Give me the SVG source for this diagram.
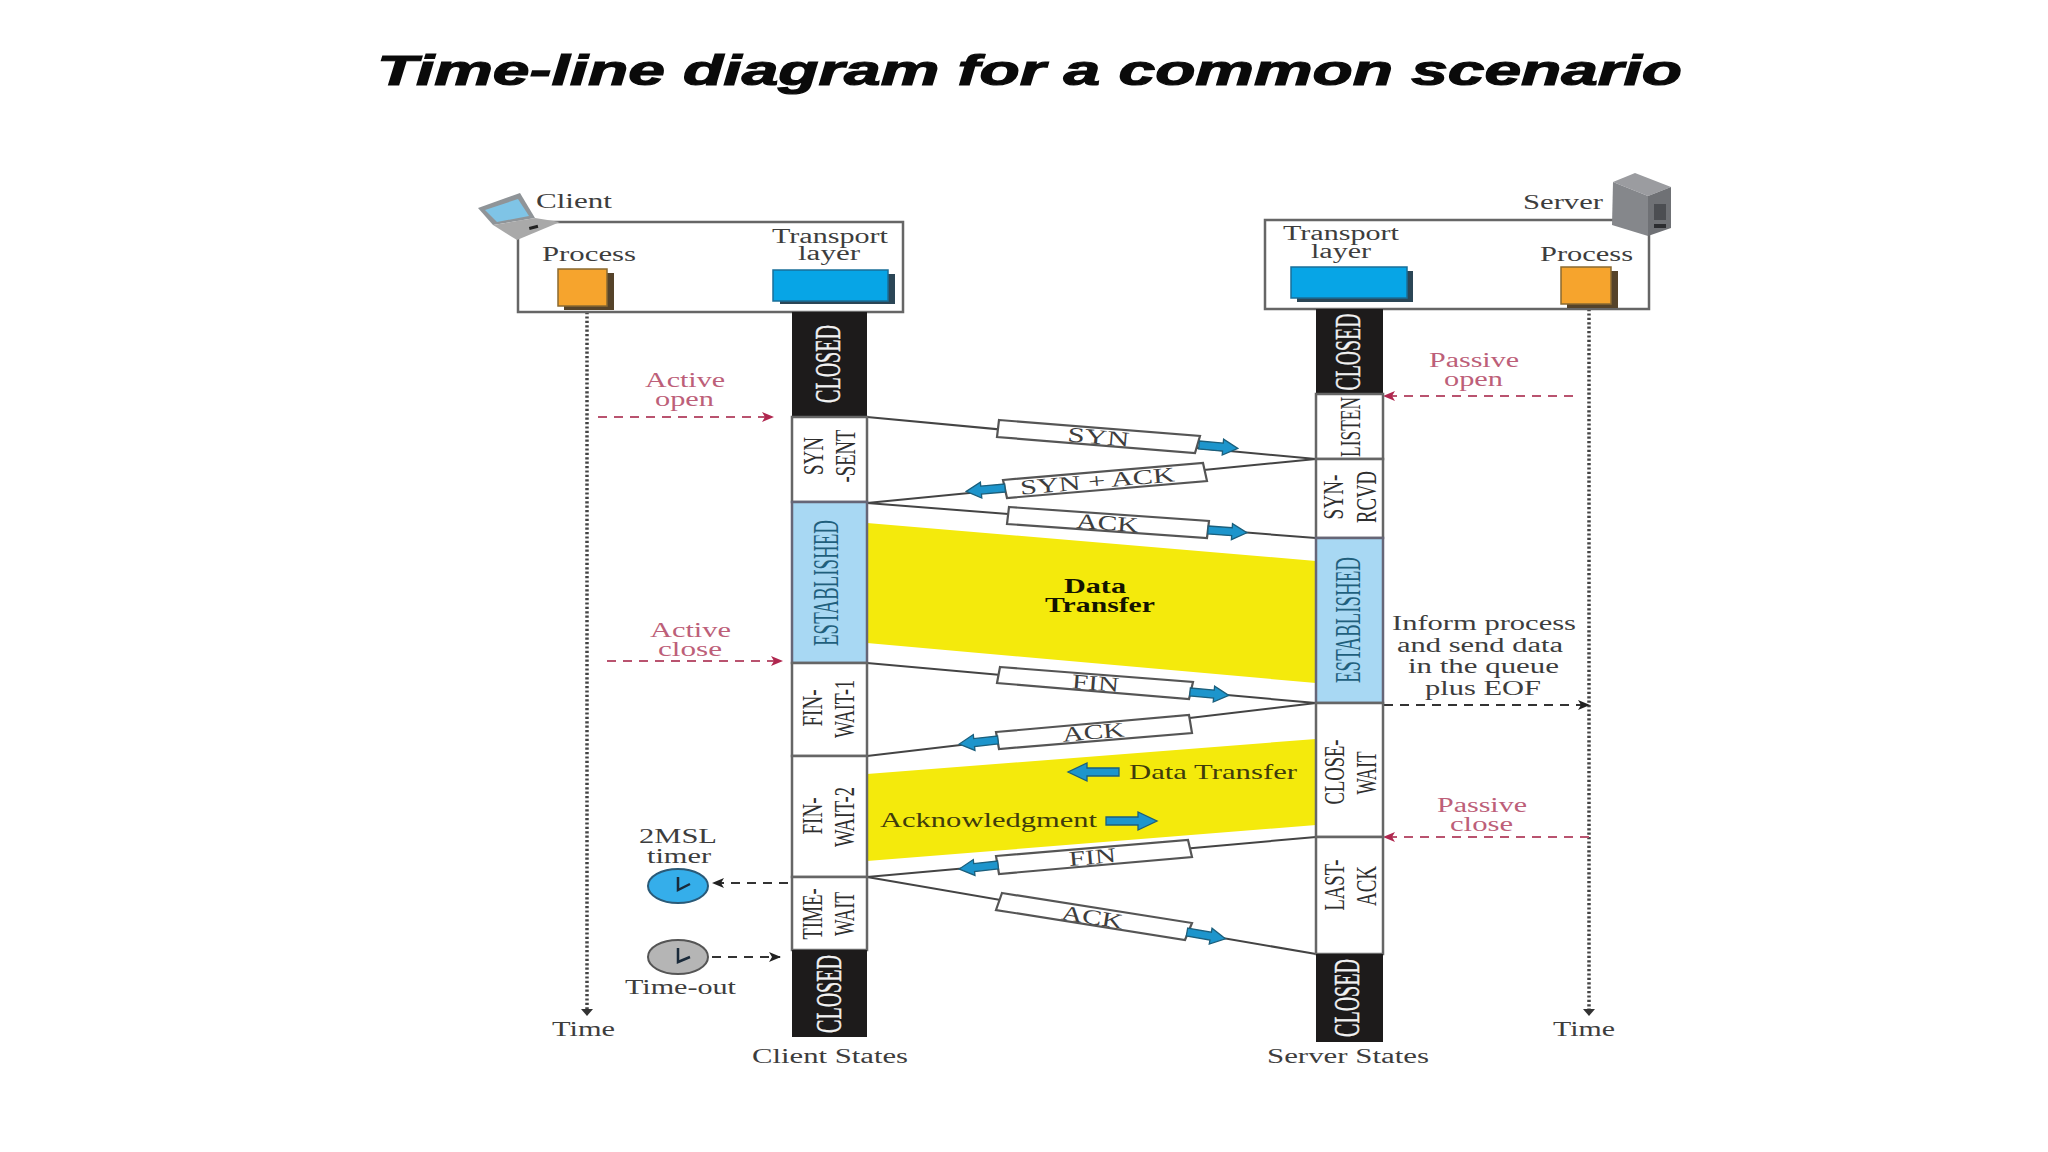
<svg xmlns="http://www.w3.org/2000/svg" width="2048" height="1152" viewBox="0 0 2048 1152">
<style>
text{font-family:"Liberation Serif","Times New Roman",serif;font-size:20px;fill:#3d3d3d}
.title{font-family:"Liberation Sans",Arial,sans-serif;font-size:43px;font-weight:bold;font-style:italic;fill:#0a0a0a;stroke:#0a0a0a;stroke-width:1.2}
.red{fill:#bd5f79}
.olive{fill:#403c0c;font-size:21px}
.bold{fill:#141400;font-weight:bold;font-size:21px}
.v{font-size:30px;text-anchor:middle;fill:#2e2e2e}
.vw{font-size:35px;text-anchor:middle;fill:#f2f2f2;stroke:#f2f2f2;stroke-width:.4}
.vb{font-size:35px;text-anchor:middle;fill:#1f5f7c}
.m{text-anchor:middle;font-size:21px}
.frame{fill:#fff;stroke:#666;stroke-width:2.5}
.cell{fill:#fff;stroke:#666;stroke-width:2.5}
.closed{fill:#1d1b1b}
.est{fill:#a8d8f3;stroke:#667;stroke-width:2.5}
.orange{fill:#f6a42d;stroke:#8a6a30;stroke-width:1.5}
.oshadow{fill:#55432a}
.blue{fill:#07a5e6;stroke:#1a6f99;stroke-width:1.5}
.bshadow{fill:#2b4656}
.yellow{fill:#f4ea0c}
.msg{stroke:#444;stroke-width:2;fill:none}
.mbox{fill:#fff;stroke:#555;stroke-width:2.2}
.dotted{stroke:#444;stroke-width:3.5;stroke-dasharray:2.2 2.2;fill:none}
.dr{stroke:#b9536f;stroke-width:2;stroke-dasharray:9 7;fill:none;marker-end:url(#ar)}
.dk{stroke:#333;stroke-width:2;stroke-dasharray:9 7;fill:none;marker-end:url(#ak)}
.ba{fill:#1d95cc;stroke:#1b5f7c;stroke-width:1.3}
.hand{stroke:#1a2a3a;stroke-width:2.5;fill:none}
</style>
<defs>
<marker id="ar" viewBox="0 0 12 10" refX="11" refY="5" markerWidth="12" markerHeight="10" markerUnits="userSpaceOnUse" orient="auto"><path d="M0 0 L12 5 L0 10 L3 5Z" fill="#b0274f"/></marker>
<marker id="ak" viewBox="0 0 12 10" refX="11" refY="5" markerWidth="12" markerHeight="10" markerUnits="userSpaceOnUse" orient="auto"><path d="M0 0 L12 5 L0 10 L3 5Z" fill="#222"/></marker>
<path id="ba" d="M0 -4H24V-8L39 0L24 8V4H0Z"/>
<path id="bigba" d="M0 -4H32V-9L51 0L32 9V4H0Z"/>
</defs>
<rect width="2048" height="1152" fill="#fff"/>
<text id="title" class="title" x="377" y="85" textLength="1305" lengthAdjust="spacingAndGlyphs">Time-line diagram for a common scenario</text>

<g id="data-transfer-1"><polygon class="yellow" points="867,523 1316,561 1316,683 867,643"/>
<text class="bold" x="1064" y="593" textLength="62" lengthAdjust="spacingAndGlyphs">Data</text>
<text class="bold" x="1045" y="612" textLength="110" lengthAdjust="spacingAndGlyphs">Transfer</text></g>
<g id="data-transfer-2"><polygon class="yellow" points="867,774 1316,739 1316,825 867,861"/>
<use href="#bigba" class="ba" transform="translate(1119,772) rotate(180)"/>
<text class="olive" x="1129" y="779" textLength="168" lengthAdjust="spacingAndGlyphs">Data Transfer</text>
<text class="olive" x="880" y="827" textLength="217" lengthAdjust="spacingAndGlyphs">Acknowledgment</text>
<use href="#bigba" class="ba" transform="translate(1106,821)"/></g>

<g id="connectors">
<line class="dotted" x1="587" y1="312" x2="587" y2="1010"/>
<path d="M581 1009H593L587 1016Z" fill="#333"/>
<line class="dotted" x1="1589" y1="309" x2="1589" y2="1010"/>
<path d="M1583 1009H1595L1589 1016Z" fill="#333"/>
<line class="dr" x1="598" y1="417" x2="773" y2="417"/>
<line class="dr" x1="607" y1="661" x2="782" y2="661"/>
<line class="dr" x1="1573" y1="396" x2="1384" y2="396"/>
<line class="dr" x1="1589" y1="837" x2="1384" y2="837"/>
<line class="dk" x1="1384" y1="705" x2="1589" y2="705"/>
<line class="dk" x1="788" y1="883" x2="713" y2="883"/>
<line class="dk" x1="712" y1="957" x2="780" y2="957"/>

<line class="msg" x1="867" y1="417" x2="1316" y2="459"/>
<line class="msg" x1="867" y1="503" x2="1316" y2="459"/>
<line class="msg" x1="867" y1="503" x2="1316" y2="538"/>
<line class="msg" x1="867" y1="663" x2="1316" y2="703"/>
<line class="msg" x1="867" y1="756" x2="1316" y2="703"/>
<line class="msg" x1="867" y1="877" x2="1316" y2="837"/>
<line class="msg" x1="867" y1="877" x2="1316" y2="954"/>

<polygon class="mbox" points="999,420 1200,436 1195,453 997,437"/>
<text class="m" textLength="62" lengthAdjust="spacingAndGlyphs" transform="translate(1098,444) rotate(5)">SYN</text>
<use href="#ba" class="ba" transform="translate(1199,445) rotate(5)"/>

<polygon class="mbox" points="1003,480 1203,463 1207,481 1007,498"/>
<text class="m" textLength="155" lengthAdjust="spacingAndGlyphs" transform="translate(1098,488) rotate(-5)">SYN + ACK</text>
<use href="#ba" class="ba" transform="translate(1005,488) rotate(175)"/>

<polygon class="mbox" points="1009,507 1209,521 1207,538 1007,524"/>
<text class="m" textLength="62" lengthAdjust="spacingAndGlyphs" transform="translate(1107,530) rotate(4)">ACK</text>
<use href="#ba" class="ba" transform="translate(1208,530) rotate(4)"/>

<polygon class="mbox" points="1000,667 1193,682 1189,699 997,683"/>
<text class="m" textLength="47" lengthAdjust="spacingAndGlyphs" transform="translate(1095,690) rotate(4.5)">FIN</text>
<use href="#ba" class="ba" transform="translate(1190,692) rotate(5)"/>

<polygon class="mbox" points="996,732 1189,715 1192,733 999,749"/>
<text class="m" textLength="62" lengthAdjust="spacingAndGlyphs" transform="translate(1094,739) rotate(-5)">ACK</text>
<use href="#ba" class="ba" transform="translate(998,740) rotate(174)"/>

<polygon class="mbox" points="996,856 1188,840 1192,857 999,874"/>
<text class="m" textLength="47" lengthAdjust="spacingAndGlyphs" transform="translate(1093,864) rotate(-5)">FIN</text>
<use href="#ba" class="ba" transform="translate(998,865) rotate(174)"/>

<polygon class="mbox" points="1002,893 1192,923 1185,940 996,910"/>
<text class="m" textLength="62" lengthAdjust="spacingAndGlyphs" transform="translate(1091,924) rotate(9)">ACK</text>
<use href="#ba" class="ba" transform="translate(1187,932) rotate(10)"/>
</g>

<g id="client">
<rect class="frame" x="518" y="222" width="385" height="90"/>
<polygon points="478,208 520,193 535,218 493,225" fill="#8f9498"/>
<polygon points="485,210 518,199 529,216 497,222" fill="#7fc4e6"/>
<polygon points="493,225 535,218 560,222 517,240" fill="#a9a9a9"/>
<rect x="529" y="226" width="9" height="3" fill="#222" transform="rotate(-15 533 227)"/>
<text x="536" y="208" textLength="76" lengthAdjust="spacingAndGlyphs">Client</text>
</g>
<g id="client-process">
<rect class="oshadow" x="564" y="273" width="50" height="37"/>
<rect class="orange" x="558" y="269" width="49" height="37"/>
<text x="542" y="261" textLength="94" lengthAdjust="spacingAndGlyphs">Process</text>
</g>
<g id="client-transport">
<rect class="bshadow" x="780" y="274" width="115" height="30"/>
<rect class="blue" x="773" y="270" width="115" height="31"/>
<text x="772" y="243" textLength="116" lengthAdjust="spacingAndGlyphs">Transport</text>
<text x="798" y="260" textLength="62" lengthAdjust="spacingAndGlyphs">layer</text>
</g>

<g id="server">
<rect class="frame" x="1265" y="220" width="384" height="89"/>
<polygon points="1613,182 1635,173 1671,187 1648,196" fill="#9b9ca0"/>
<polygon points="1613,182 1648,196 1648,236 1612,225" fill="#85878b"/>
<polygon points="1648,196 1671,187 1671,228 1648,236" fill="#6f7175"/>
<rect x="1654" y="204" width="12" height="16" fill="#4c4e52"/>
<rect x="1654" y="224" width="12" height="4" fill="#2c2d30"/>
<text x="1523" y="209" textLength="80" lengthAdjust="spacingAndGlyphs">Server</text>
</g>
<g id="server-transport">
<rect class="bshadow" x="1297" y="271" width="116" height="31"/>
<rect class="blue" x="1291" y="267" width="116" height="31"/>
<text x="1283" y="240" textLength="116" lengthAdjust="spacingAndGlyphs">Transport</text>
<text x="1311" y="258" textLength="60" lengthAdjust="spacingAndGlyphs">layer</text>
</g>
<g id="server-process">
<rect class="oshadow" x="1567" y="271" width="51" height="37"/>
<rect class="orange" x="1561" y="267" width="50" height="37"/>
<text x="1540" y="261" textLength="93" lengthAdjust="spacingAndGlyphs">Process</text>
</g>

<g id="client-states">
<rect class="closed" x="792" y="312" width="75" height="105"/>
<text class="vw" textLength="78" lengthAdjust="spacingAndGlyphs" transform="translate(840,364) rotate(-90)">CLOSED</text>
<rect class="cell" x="792" y="417" width="75" height="85"/>
<text class="v" textLength="38" lengthAdjust="spacingAndGlyphs" transform="translate(823,456) rotate(-90)">SYN</text>
<text class="v" textLength="53" lengthAdjust="spacingAndGlyphs" transform="translate(855,456) rotate(-90)">-SENT</text>
<rect class="est" x="792" y="502" width="75" height="161"/>
<text class="vb" textLength="126" lengthAdjust="spacingAndGlyphs" transform="translate(838,583) rotate(-90)">ESTABLISHED</text>
<rect class="cell" x="792" y="663" width="75" height="93"/>
<text class="v" textLength="37" lengthAdjust="spacingAndGlyphs" transform="translate(822,708) rotate(-90)">FIN-</text>
<text class="v" textLength="58" lengthAdjust="spacingAndGlyphs" transform="translate(854,709) rotate(-90)">WAIT-1</text>
<rect class="cell" x="792" y="756" width="75" height="121"/>
<text class="v" textLength="37" lengthAdjust="spacingAndGlyphs" transform="translate(822,816) rotate(-90)">FIN-</text>
<text class="v" textLength="60" lengthAdjust="spacingAndGlyphs" transform="translate(854,817) rotate(-90)">WAIT-2</text>
<rect class="cell" x="792" y="877" width="75" height="73"/>
<text class="v" textLength="51" lengthAdjust="spacingAndGlyphs" transform="translate(822,914) rotate(-90)">TIME-</text>
<text class="v" textLength="44" lengthAdjust="spacingAndGlyphs" transform="translate(854,914) rotate(-90)">WAIT</text>
<rect class="closed" x="792" y="950" width="75" height="87"/>
<text class="vw" textLength="78" lengthAdjust="spacingAndGlyphs" transform="translate(841,994) rotate(-90)">CLOSED</text>
<text x="752" y="1063" textLength="156" lengthAdjust="spacingAndGlyphs">Client States</text>
</g>

<g id="server-states">
<rect class="closed" x="1316" y="309" width="67" height="85"/>
<text class="vw" textLength="77" lengthAdjust="spacingAndGlyphs" transform="translate(1360,352) rotate(-90)">CLOSED</text>
<rect class="cell" x="1316" y="394" width="67" height="65"/>
<text class="v" textLength="60" lengthAdjust="spacingAndGlyphs" transform="translate(1360,427) rotate(-90)">LISTEN</text>
<rect class="cell" x="1316" y="459" width="67" height="79"/>
<text class="v" textLength="45" lengthAdjust="spacingAndGlyphs" transform="translate(1343,497) rotate(-90)">SYN-</text>
<text class="v" textLength="52" lengthAdjust="spacingAndGlyphs" transform="translate(1376,497) rotate(-90)">RCVD</text>
<rect class="est" x="1316" y="538" width="67" height="165"/>
<text class="vb" textLength="126" lengthAdjust="spacingAndGlyphs" transform="translate(1360,620) rotate(-90)">ESTABLISHED</text>
<rect class="cell" x="1316" y="703" width="67" height="134"/>
<text class="v" textLength="65" lengthAdjust="spacingAndGlyphs" transform="translate(1344,772) rotate(-90)">CLOSE-</text>
<text class="v" textLength="43" lengthAdjust="spacingAndGlyphs" transform="translate(1376,773) rotate(-90)">WAIT</text>
<rect class="cell" x="1316" y="837" width="67" height="117"/>
<text class="v" textLength="51" lengthAdjust="spacingAndGlyphs" transform="translate(1344,885) rotate(-90)">LAST-</text>
<text class="v" textLength="40" lengthAdjust="spacingAndGlyphs" transform="translate(1376,886) rotate(-90)">ACK</text>
<rect class="closed" x="1316" y="954" width="67" height="88"/>
<text class="vw" textLength="78" lengthAdjust="spacingAndGlyphs" transform="translate(1359,998) rotate(-90)">CLOSED</text>
<text x="1267" y="1063" textLength="162" lengthAdjust="spacingAndGlyphs">Server States</text>
</g>

<g id="active-open">
<text class="red" x="645" y="387" textLength="80" lengthAdjust="spacingAndGlyphs">Active</text>
<text class="red" x="655" y="406" textLength="59" lengthAdjust="spacingAndGlyphs">open</text>
</g>
<g id="active-close">
<text class="red" x="650" y="637" textLength="81" lengthAdjust="spacingAndGlyphs">Active</text>
<text class="red" x="658" y="656" textLength="64" lengthAdjust="spacingAndGlyphs">close</text>
</g>
<g id="passive-open">
<text class="red" x="1429" y="367" textLength="90" lengthAdjust="spacingAndGlyphs">Passive</text>
<text class="red" x="1444" y="386" textLength="59" lengthAdjust="spacingAndGlyphs">open</text>
</g>
<g id="passive-close">
<text class="red" x="1437" y="812" textLength="90" lengthAdjust="spacingAndGlyphs">Passive</text>
<text class="red" x="1450" y="831" textLength="63" lengthAdjust="spacingAndGlyphs">close</text>
</g>
<g id="inform">
<text x="1392" y="630" textLength="184" lengthAdjust="spacingAndGlyphs">Inform process</text>
<text x="1397" y="652" textLength="166" lengthAdjust="spacingAndGlyphs">and send data</text>
<text x="1408" y="673" textLength="151" lengthAdjust="spacingAndGlyphs">in the queue</text>
<text x="1425" y="695" textLength="116" lengthAdjust="spacingAndGlyphs">plus EOF</text>
</g>
<g id="timer">
<text x="639" y="843" textLength="78" lengthAdjust="spacingAndGlyphs">2MSL</text>
<text x="647" y="863" textLength="64" lengthAdjust="spacingAndGlyphs">timer</text>
<ellipse cx="678" cy="886" rx="30" ry="17" fill="#35aeea" stroke="#2a5a78" stroke-width="2"/>
<path class="hand" d="M678 877V890L690 884"/>
</g>
<g id="timeout">
<ellipse cx="678" cy="957" rx="30" ry="17" fill="#b5b5b5" stroke="#555" stroke-width="2"/>
<path class="hand" d="M678 948V962L690 957"/>
<text x="625" y="994" textLength="111" lengthAdjust="spacingAndGlyphs">Time-out</text>
</g>
<g id="time-client"><text x="552" y="1036" textLength="63" lengthAdjust="spacingAndGlyphs">Time</text></g>
<g id="time-server"><text x="1553" y="1036" textLength="62" lengthAdjust="spacingAndGlyphs">Time</text></g>
</svg>
